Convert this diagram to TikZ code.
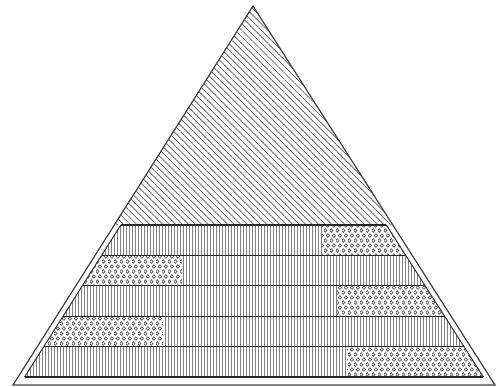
\documentclass[tikz,border=0pt]{standalone}
\usetikzlibrary{patterns,patterns.meta}
\pgfdeclarepattern{
  name=rings,
  type=uncolored,
  bottom left={\pgfpoint{0pt}{0pt}},
  top right={\pgfpoint{6pt}{10.4pt}},
  tile size={\pgfpoint{6pt}{10.4pt}},
  code={
    \pgfsetlinewidth{0.75pt}
    \pgfpathcircle{\pgfpoint{1.5pt}{2.6pt}}{1.9pt}
    \pgfpathcircle{\pgfpoint{4.5pt}{7.8pt}}{1.9pt}
    \pgfusepath{stroke}
  }
}
\tikzset{
  diaghatch/.style={pattern={Lines[angle=-45,distance=4.6pt,line width=0.7pt]},pattern color=black!65},
  vhatch/.style={pattern={Lines[angle=90,distance=3pt,line width=0.7pt]},pattern color=black!50},
  ringfill/.style={pattern=rings,pattern color=black!65},
  bandline/.style={draw=black!85,line width=1.3pt},
  sideline/.style={draw=black!80,line width=1pt},
  outline/.style={draw=black!75,line width=1.2pt,line join=miter},
}
\begin{document}
\begin{tikzpicture}[x=1pt,y=-1pt]
\fill[white] (0,0) rectangle (498,387);
\useasboundingbox (0,0) rectangle (498,387);
\coordinate (A) at (253,6);
\coordinate (BL) at (13,385);
\coordinate (BR) at (495,385);
% top hatched region
\begin{scope}
  \clip (A) -- (BL) -- (BR) -- cycle;
  \fill[diaghatch] (0,0) rectangle (498,225);
\end{scope}
% bands
\foreach \i/\xa/\xb in {0/322/498, 1/0/182, 2/337/498, 3/0/163, 4/347/498}{
  \pgfmathsetmacro\yt{225+\i*30.4}
  \pgfmathsetmacro\yb{\yt+30.4}
  \pgfmathsetmacro\xlt{253-(\yt-6)/379*240+6.5}
  \pgfmathsetmacro\xlb{253-(\yb-6)/379*240+6.5}
  \pgfmathsetmacro\xrt{253+(\yt-6)/379*242-6.5}
  \pgfmathsetmacro\xrb{253+(\yb-6)/379*242-6.5}
  \coordinate (tl\i) at (\xlt,\yt);
  \coordinate (tr\i) at (\xrt,\yt);
  \coordinate (bl\i) at (\xlb,\yb);
  \coordinate (br\i) at (\xrb,\yb);
  \fill[vhatch] (tl\i) -- (tr\i) -- (br\i) -- (bl\i) -- cycle;
  \begin{scope}
    \clip (tl\i) -- (tr\i) -- (br\i) -- (bl\i) -- cycle;
    \fill[white] (\xa,\yt) rectangle (\xb,\yb);
    \fill[ringfill] (\xa,\yt) rectangle (\xb,\yb);
  \end{scope}
  \draw[sideline] (tl\i) -- (bl\i);
  \draw[sideline] (tr\i) -- (br\i);
  \draw[bandline] (tl\i) -- (tr\i);
}
\draw[bandline] (bl4) -- (br4);
% outer triangle
\draw[outline] (A) -- (BL) -- (BR) -- cycle;
\end{tikzpicture}
\end{document}
